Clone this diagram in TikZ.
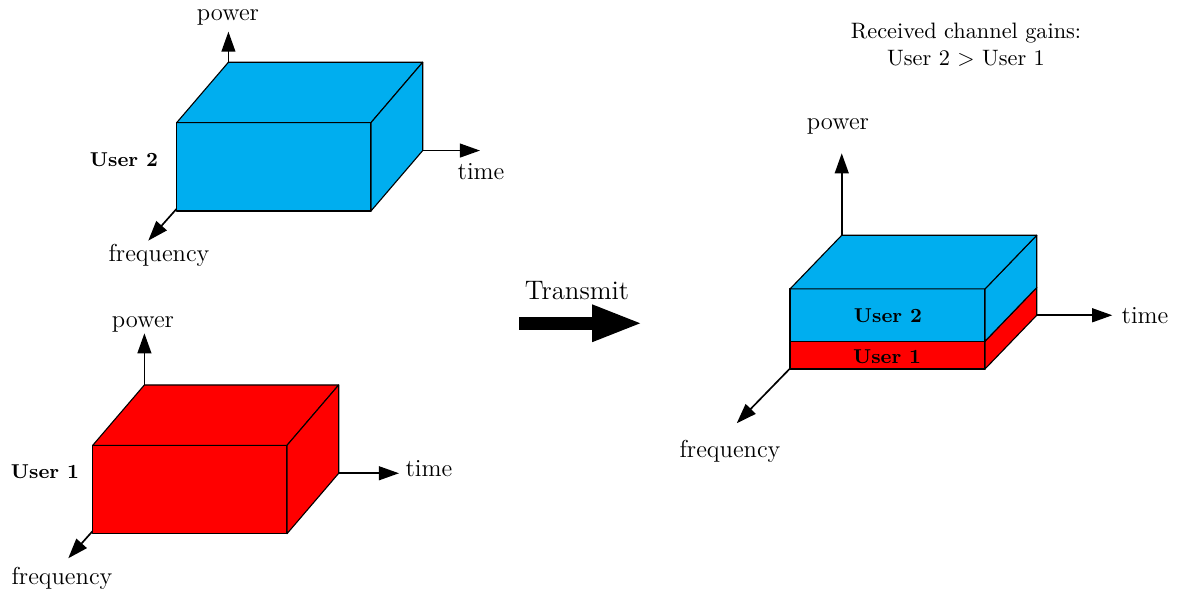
\documentclass[tikz,border=0pt]{standalone}
\usepackage{amsmath}
\usepackage{tikz}
\usetikzlibrary{positioning, calc, arrows.meta}
\definecolor{usertwo}{RGB}{0,174,239}
\definecolor{userone}{RGB}{255,0,0}
\newcommand{\lbl}{\fontsize{11}{13.6}\selectfont}
\newcommand{\usr}{\fontsize{9}{11}\selectfont\bfseries}

\begin{document}
\begin{tikzpicture}[
    axis/.style={line width=0.75pt, -{Triangle[length=9pt,width=6.2pt]}},
    box/.style={draw=black, line width=0.5pt, line join=round},
    bigarrow/.style={line width=5.7pt, -{Triangle[length=23pt,width=15pt]}},
    font=\lbl
  ]
      \useasboundingbox (0,0) rectangle (18.597,9.377);

      % user 2 alone (top left)
      \coordinate (O2) at (3.600,7.004);
      \coordinate (P2) at (3.600,8.878);
      \coordinate (T2) at (7.565,7.004);
      \coordinate (F2) at (2.337,5.584);
      \draw[axis] (O2) -- (P2);
      \draw[axis] (O2) -- (T2);
      \draw[axis] (O2) -- (F2);
      \filldraw[box, fill=usertwo] (2.785,6.052) rectangle ++(3.062,1.392);
      \filldraw[box, fill=usertwo] (2.785,7.444) -- ++(0.815,0.952) -- ++(3.062,0) -- ++(-0.815,-0.952) -- cycle;
      \filldraw[box, fill=usertwo] (5.847,6.052) -- ++(0.815,0.952) -- ++(0,1.392) -- ++(-0.815,-0.952) -- cycle;
      \node (pow2) at (3.593,9.110) {power};
      \node (time2) at (7.581,6.667) {time};
      \node (freq2) at (2.506,5.360) {frequency};
      \node (U2) at (1.954,6.856) {\usr User 2};

      % user 1 alone (bottom left)
      \coordinate (O1) at (2.276,1.918);
      \coordinate (P1) at (2.276,4.124);
      \coordinate (T1) at (6.288,1.918);
      \coordinate (F1) at (1.076,0.578);
      \draw[axis] (O1) -- (P1);
      \draw[axis] (O1) -- (T1);
      \draw[axis] (O1) -- (F1);
      \filldraw[box, fill=userone] (1.461,0.966) rectangle ++(3.062,1.392);
      \filldraw[box, fill=userone] (1.461,2.358) -- ++(0.815,0.952) -- ++(3.062,0) -- ++(-0.815,-0.952) -- cycle;
      \filldraw[box, fill=userone] (4.523,0.966) -- ++(0.815,0.952) -- ++(0,1.392) -- ++(-0.815,-0.952) -- cycle;
      \node (pow1) at (2.254,4.260) {power};
      \node (time1) at (6.761,1.986) {time};
      \node (freq1) at (0.977,0.255) {frequency};
      \node (U1) at (0.709,1.939) {\usr User 1};

      % transmit
      \coordinate (TX0) at (8.184,4.282);
      \coordinate (TX1) at (10.139,4.282);
      \draw[bigarrow] (TX0) -- (TX1);
      \node (transmit) at (9.094,4.790) {\fontsize{12}{14.5}\selectfont Transmit};

      % superposed signal (right)
      \coordinate (O3) at (13.266,4.408);
      \coordinate (P3) at (13.266,6.961);
      \coordinate (T3) at (17.530,4.408);
      \coordinate (F3) at (11.611,2.706);
      \draw[axis] (O3) -- (P3);
      \draw[axis] (O3) -- (T3);
      \draw[axis] (O3) -- (F3);
      \filldraw[box, fill=userone] (12.451,3.562) rectangle ++(3.073,0.437);
      \filldraw[box, fill=userone] (15.524,3.562) -- ++(0.815,0.846) -- ++(0,0.437) -- ++(-0.815,-0.846) -- cycle;
      \filldraw[box, fill=usertwo] (12.451,3.999) rectangle ++(3.073,0.824);
      \filldraw[box, fill=usertwo] (15.524,3.999) -- ++(0.815,0.846) -- ++(0,0.824) -- ++(-0.815,-0.846) -- cycle;
      \filldraw[box, fill=usertwo] (12.451,4.823) -- ++(0.815,0.846) -- ++(3.073,0) -- ++(-0.815,-0.846) -- cycle;
      \node (pow3) at (13.207,7.380) {power};
      \node (time3) at (18.046,4.397) {time};
      \node (freq3) at (11.505,2.270) {frequency};
      \node (U2s) at (13.995,4.397) {\usr User 2};
      \node (U1s) at (13.980,3.751) {\usr User 1};

      \node[align=center, font=\fontsize{10}{12}\selectfont] (gains) at (15.225,8.668) {Received channel gains:\\ User 2 $>$ User 1};
\end{tikzpicture}
\end{document}
